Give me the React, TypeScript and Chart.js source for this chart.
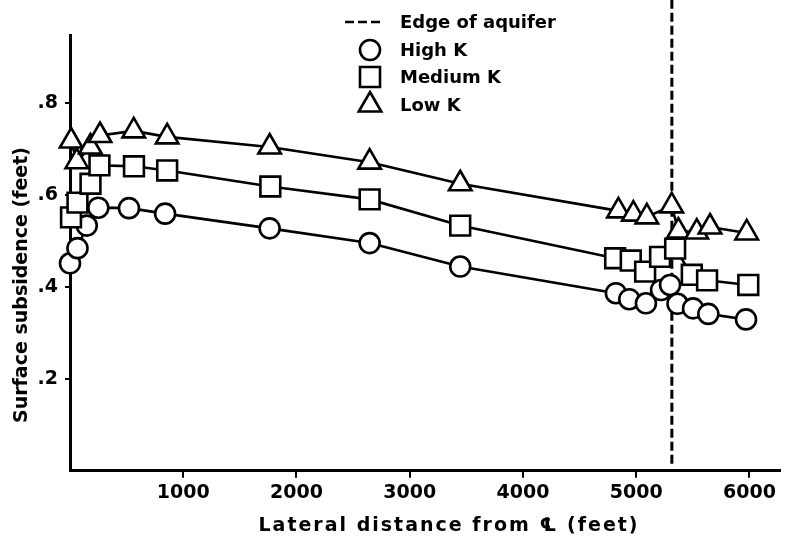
import React, { useEffect, useRef } from "react";
import { Chart, registerables } from "chart.js";

Chart.register(...registerables);

// ---- data ----
const highKX = [0, 66, 148, 250, 521, 840, 1763, 2646, 3446, 4821, 4939, 5086, 5220, 5299, 5365, 5502, 5637, 5970];
const highKY = [0.451, 0.484, 0.533, 0.572, 0.571, 0.559, 0.527, 0.495, 0.444, 0.386, 0.373, 0.364, 0.393, 0.404, 0.363, 0.353, 0.341, 0.329];

const medKX = [9, 66, 181, 260, 565, 858, 1769, 2646, 3446, 4814, 4952, 5079, 5211, 5344, 5491, 5626, 5990];
const medKY = [0.551, 0.583, 0.624, 0.664, 0.662, 0.653, 0.618, 0.59, 0.533, 0.462, 0.457, 0.433, 0.465, 0.483, 0.426, 0.414, 0.404];

const lowKX = [10, 60, 180, 265, 563, 858, 1763, 2646, 3446, 4843, 4975, 5094, 5314, 5373, 5535, 5652, 5976];
const lowKY = [0.717, 0.672, 0.704, 0.729, 0.739, 0.726, 0.704, 0.671, 0.624, 0.565, 0.558, 0.552, 0.576, 0.521, 0.519, 0.53, 0.517];

const aquiferEdgeX = 5315;
const aquiferLineY = [0.015, 1.04];

const xTicks = [1000, 2000, 3000, 4000, 5000, 6000];
const yTicks = [0.2, 0.4, 0.6, 0.8];

const seriesNames = ["Edge of aquifer", "High K", "Medium K", "Low K"];
const xTitle = "Lateral distance from \u2104 (feet)";
const yTitle = "Surface subsidence (feet)";

const FONT = '"DejaVu Sans", "Liberation Sans", sans-serif';

function pts(xs: number[], ys: number[]) {
  return xs.map((x, i) => ({ x, y: ys[i] }));
}

const overlayPlugin = {
  id: "overlayText",
  afterDraw(chart: any) {
    const ctx = chart.ctx as CanvasRenderingContext2D;
    ctx.save();
    ctx.fillStyle = "#000";
    ctx.strokeStyle = "#000";
    ctx.textBaseline = "middle";

    // axis titles
    ctx.font = `bold 19px ${FONT}`;
    ctx.textAlign = "center";
    (ctx as any).letterSpacing = "2px";
    ctx.fillText(xTitle, 449, 526);
    (ctx as any).letterSpacing = "0px";
    ctx.save();
    ctx.translate(22, 285);
    ctx.rotate(-Math.PI / 2);
    ctx.fillText(yTitle, 0, 0);
    ctx.restore();

    // legend
    const rowY = [22, 50, 77, 105];
    const symX = 370;
    const textX = 400;
    ctx.font = `bold 18px ${FONT}`;
    ctx.textAlign = "left";
    ctx.lineWidth = 2.6;

    // dashed entry
    ctx.beginPath();
    ctx.setLineDash([9, 4]);
    ctx.moveTo(345, rowY[0]);
    ctx.lineTo(384, rowY[0]);
    ctx.stroke();
    ctx.setLineDash([]);

    // circle
    ctx.beginPath();
    ctx.arc(symX, rowY[1], 10, 0, Math.PI * 2);
    ctx.stroke();
    // square
    ctx.beginPath();
    ctx.rect(symX - 10, rowY[2] - 10, 20, 20);
    ctx.stroke();
    // triangle
    const r = 13;
    const ty = rowY[3];
    ctx.beginPath();
    ctx.moveTo(symX, ty - r);
    ctx.lineTo(symX + r * Math.cos(Math.PI / 6), ty + r / 2);
    ctx.lineTo(symX - r * Math.cos(Math.PI / 6), ty + r / 2);
    ctx.closePath();
    ctx.stroke();

    seriesNames.forEach((n, i) => ctx.fillText(n, textX, rowY[i] + 1));
    ctx.restore();
  },
};

export default function App() {
  const ref = useRef<HTMLCanvasElement | null>(null);

  useEffect(() => {
    document.body.style.margin = "0";
    if (!ref.current) return;
    const common = {
      borderColor: "#000",
      backgroundColor: "#fff",
      pointBackgroundColor: "#fff",
      pointBorderColor: "#000",
      borderWidth: 2.6,
      pointBorderWidth: 2.6,
      tension: 0,
      fill: false,
      clip: false,
    };
    const chart = new Chart(ref.current, {
      type: "line",
      data: {
        datasets: [
          {
            label: seriesNames[0],
            data: aquiferLineY.map((y) => ({ x: aquiferEdgeX, y })),
            borderColor: "#000",
            borderWidth: 3,
            borderDash: [9, 4],
            pointRadius: 0,
            clip: false,
            order: 10,
          },
          {
            ...common,
            label: seriesNames[1],
            data: pts(highKX, highKY),
            pointStyle: "circle",
            pointRadius: 10,
            order: 3,
          },
          {
            ...common,
            label: seriesNames[2],
            data: pts(medKX, medKY),
            pointStyle: "rect",
            pointRadius: 14,
            order: 2,
          },
          {
            ...common,
            label: seriesNames[3],
            data: pts(lowKX, lowKY),
            pointStyle: "triangle",
            pointRadius: 13,
            order: 1,
          },
        ] as any,
      },
      options: {
        responsive: false,
        animation: false,
        devicePixelRatio: 1,
        layout: { autoPadding: false, padding: { top: 35.7, right: 5, left: 0, bottom: 0 } },
        plugins: {
          legend: { display: false },
          tooltip: { enabled: false },
        },
        scales: {
          x: {
            type: "linear",
            min: 0,
            max: 6270,
            afterBuildTicks: (s: any) => {
              s.ticks = xTicks.map((v) => ({ value: v }));
            },
            afterFit: (s: any) => {
              s.height = 542 - 470.7;
              s.paddingLeft = 0;
              s.paddingRight = 0;
            },
            grid: {
              display: true,
              drawOnChartArea: false,
              drawTicks: true,
              tickLength: 7,
              color: "#000",
              lineWidth: 2,
            },
            border: { display: true, color: "#000", width: 3 },
            ticks: {
              color: "#000",
              padding: 4,
              maxRotation: 0,
              autoSkip: false,
              font: { family: FONT, size: 19, weight: "bold" },
              callback: (v: any) => String(v),
            },
          },
          y: {
            type: "linear",
            min: 0,
            max: 0.946,
            afterBuildTicks: (s: any) => {
              s.ticks = yTicks.map((v) => ({ value: v }));
            },
            afterFit: (s: any) => {
              s.width = 70;
              s.paddingTop = 0;
              s.paddingBottom = 0;
            },
            grid: {
              display: true,
              drawOnChartArea: false,
              drawTicks: true,
              tickLength: 5,
              color: "#000",
              lineWidth: 2,
            },
            border: { display: true, color: "#000", width: 3 },
            ticks: {
              color: "#000",
              padding: 7,
              autoSkip: false,
              font: { family: FONT, size: 19, weight: "bold" },
              callback: (v: any) => "." + Math.round(Number(v) * 10),
            },
          },
        },
      } as any,
      plugins: [overlayPlugin],
    });
    return () => chart.destroy();
  }, []);

  return (
    <div style={{ width: 785, height: 542, background: "#fff" }}>
      <canvas ref={ref} width={785} height={542} />
    </div>
  );
}
